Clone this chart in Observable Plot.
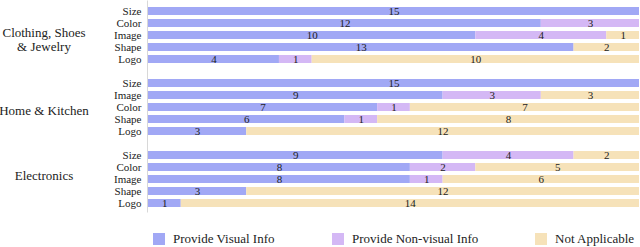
<!DOCTYPE html>
<html>
<head>
<meta charset="utf-8">
<script src="https://cdn.jsdelivr.net/npm/d3@7"></script>
<script src="https://cdn.jsdelivr.net/npm/@observablehq/plot@0.6"></script>
<style>
  body { margin: 0; background: #fff; font-family: "Liberation Serif", "DejaVu Serif", serif; }
  #legend { position: relative; height: 34px; width: 640px; font-size: 13px; color: #222; }
  .item { position: absolute; top: 18px; display: flex; align-items: center; }
  .sw { width: 12px; height: 12px; margin-right: 8px; }
  #chart svg, #chart svg text { font-family: "Liberation Serif", "DejaVu Serif", serif !important; }
</style>
</head>
<body>
<div id="chart"></div>
<div id="legend"></div>
<script>
const categories = ["Provide Visual Info", "Provide Non-visual Info", "Not Applicable"];
const colors = ["#a1a8f5", "#d4b8f5", "#f6e2b9"];

const groups = ["Clothing, Shoes\n& Jewelry", "Home & Kitchen", "Electronics"];
const groupKeys = ["C", "H", "E"];
const attrsC = ["Size", "Color", "Image", "Shape", "Logo"];
const attrsH = ["Size", "Image", "Color", "Shape", "Logo"];
const attrsE = ["Size", "Color", "Image", "Shape", "Logo"];

const visualC = [15, 12, 10, 13, 4];
const nonVisualC = [0, 3, 4, 0, 1];
const naC = [0, 0, 1, 2, 10];

const visualH = [15, 9, 7, 6, 3];
const nonVisualH = [0, 3, 1, 1, 0];
const naH = [0, 3, 7, 8, 12];

const visualE = [9, 8, 8, 3, 1];
const nonVisualE = [4, 2, 1, 0, 0];
const naE = [2, 5, 6, 12, 14];

const attrsAll = [attrsC, attrsH, attrsE];
const series = [[visualC, nonVisualC, naC], [visualH, nonVisualH, naH], [visualE, nonVisualE, naE]];

const domain = [];
const rows = [];
groupKeys.forEach((g, gi) => {
  if (gi > 0) domain.push("gap" + gi);
  attrsAll[gi].forEach((a, ai) => {
    const key = g + "|" + a;
    domain.push(key);
    categories.forEach((c, ci) => {
      rows.push({key, cat: c, value: series[gi][ci][ai]});
    });
  });
});

const labelRows = [
  {label: groups[0], key: "C|Image", dy: 4},
  {label: groups[1], key: "H|Color", dy: 3},
  {label: groups[2], key: "E|Image", dy: -4.5}
];

const chart = Plot.plot({
  width: 640,
  height: 213,
  marginLeft: 148,
  marginRight: 1,
  marginTop: 0.5,
  marginBottom: 0.5,
  style: {fontSize: "11px", color: "#222", background: "#fff"},
  x: {domain: [0, 15], axis: null},
  y: {domain, paddingInner: 0.34, paddingOuter: 0.17, axis: null},
  color: {domain: categories, range: colors},
  marks: [
    Plot.ruleX([0], {stroke: "#d8d8d8", dx: -1, strokeWidth: 1}),
    Plot.barX(rows, Plot.stackX({x: "value", y: "key", fill: "cat", z: "cat"})),
    Plot.text(rows, Plot.stackX({
      filter: d => d.value > 0,
      x: "value", y: "key", z: "cat", text: d => String(d.value),
      fill: "#222", fontSize: 11
    })),
    Plot.axisY({
      ticks: domain.filter(d => !d.startsWith("gap")),
      tickFormat: d => d.split("|")[1],
      tickSize: 0, tickPadding: 7, fontSize: 11, label: null, fill: "#222"
    }),
    ...labelRows.map(r => Plot.text([r], {
      y: "key", text: "label", frameAnchor: "left", dx: -104.5, dy: r.dy,
      textAnchor: "middle", fontSize: 13, lineHeight: 1.08, fill: "#222"
    }))
  ]
});
document.getElementById("chart").appendChild(chart);

const legendPos = [153, 332, 535];
const legend = document.getElementById("legend");
categories.forEach((c, i) => {
  const item = document.createElement("div");
  item.className = "item";
  item.style.left = legendPos[i] + "px";
  const sw = document.createElement("span");
  sw.className = "sw";
  sw.style.background = colors[i];
  const t = document.createElement("span");
  t.textContent = c;
  item.appendChild(sw);
  item.appendChild(t);
  legend.appendChild(item);
});
</script>
</body>
</html>
